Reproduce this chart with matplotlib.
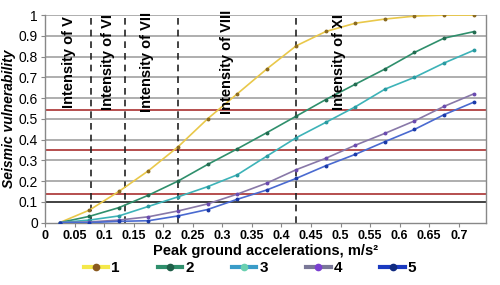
import matplotlib
matplotlib.use("Agg")
import matplotlib.pyplot as plt

plt.rcParams['font.family'] = ['Liberation Sans', 'DejaVu Sans']

pga = [0.025, 0.075, 0.125, 0.175, 0.225, 0.275, 0.325, 0.375, 0.425,
       0.475, 0.525, 0.575, 0.625, 0.675, 0.725]
s1 = [0.0, 0.06, 0.15, 0.25, 0.365, 0.50, 0.62, 0.74, 0.852, 0.921, 0.961, 0.981, 0.995, 1.0, 1.0]
s2 = [0.0, 0.03, 0.072, 0.132, 0.20, 0.28, 0.355, 0.433, 0.513, 0.593, 0.667, 0.74, 0.82, 0.889, 0.92]
s3 = [0.0, 0.012, 0.032, 0.078, 0.124, 0.173, 0.23, 0.32, 0.409, 0.483, 0.558, 0.643, 0.70, 0.769, 0.83]
s4 = [0.0, 0.003, 0.012, 0.028, 0.056, 0.09, 0.137, 0.19, 0.255, 0.31, 0.373, 0.43, 0.49, 0.56, 0.62]
s5 = [0.0, 0.0, 0.006, 0.009, 0.032, 0.063, 0.112, 0.157, 0.213, 0.274, 0.329, 0.39, 0.449, 0.52, 0.58]
series_labels = ['1', '2', '3', '4', '5']
line_colors = ['#e9c84a', '#2f8f6c', '#3db3b8', '#8878a8', '#4a6ad0']
marker_colors = ['#8a6a20', '#236b50', '#2a9aa0', '#6a4ab0', '#1a3aa8']
legend_line_colors = ['#f4e84a', '#2f8f6c', '#3a9cc8', '#7a7898', '#1a3ac0']
legend_marker_colors = ['#8a5a20', '#1f5f48', '#6ad0b0', '#7a40d0', '#102a80']

boundaries = [0.078, 0.135, 0.225, 0.425]
intensity_labels = ['Intensity of V', 'Intensity of VI', 'Intensity of VII',
                    'Intensity of VIII', 'Intensity of XI']
intensity_x = [0.040, 0.106, 0.173, 0.308, 0.498]
red_levels = [0.14, 0.35, 0.545]

xticks = [0, 0.05, 0.1, 0.15, 0.2, 0.25, 0.3, 0.35, 0.4, 0.45, 0.5, 0.55, 0.6, 0.65, 0.7]
xtick_labels = ['0', '0.05', '0.1', '0.15', '0.2', '0.25', '0.3', '0.35', '0.4',
                '0.45', '0.5', '0.55', '0.6', '0.65', '0.7']
yticks = [0, 0.1, 0.2, 0.3, 0.4, 0.5, 0.6, 0.7, 0.8, 0.9, 1.0]
ytick_labels = ['0', '0.1', '0.2', '0.3', '0.4', '0.5', '0.6', '0.7', '0.8', '0.9', '1']

fig = plt.figure(figsize=(5, 2.85), dpi=100)
ax = fig.add_axes([0.09, 0.219, 0.882, 0.728])
ax.set_xlim(0, 0.746)
ax.set_ylim(0, 1)

for y in yticks[1:]:
    ax.axhline(y, color='#333333' if abs(y - 0.1) < 1e-9 else '#a8a8a8', lw=1.3, zorder=1)
for y in red_levels:
    ax.axhline(y, color='#b04040', lw=1.3, zorder=1)
for x in boundaries:
    ax.axvline(x, color='#222222', lw=1.2, ls=(0, (4, 3)), zorder=2)

for vals, lab, lc, mc in zip([s1, s2, s3, s4, s5], series_labels, line_colors, marker_colors):
    ax.plot(pga, vals, color=lc, lw=1.2, marker='o', ms=1.8, mfc=mc, mec=mc,
            label=lab, zorder=3)

for x, t in zip(intensity_x, intensity_labels):
    ax.text(x, 0.775, t, rotation=90, ha='center', va='center', fontsize=10.5,
            fontweight='bold', color='black', zorder=4)

ax.set_xticks(xticks)
ax.set_xticklabels(xtick_labels, fontsize=9, fontweight='bold')
ax.set_yticks(yticks)
ax.set_yticklabels(ytick_labels, fontsize=10)
ax.tick_params(axis='both', length=3, color='#888888', pad=2)
for s in ['left', 'right', 'bottom']:
    ax.spines[s].set_color('#888888')
    ax.spines[s].set_linewidth(1.0)
ax.spines['top'].set_visible(False)

ax.set_xlabel('Peak ground accelerations, m/s\u00b2', fontsize=10.5,
              fontweight='bold', labelpad=2)
ax.set_ylabel('Seismic vulnerability', fontsize=10, fontstyle='italic',
              fontweight='bold', labelpad=2)

leg = fig.legend(loc='center', bbox_to_anchor=(0.5, 0.06), ncol=5, frameon=False,
                 prop={'weight': 'bold', 'size': 11}, handlelength=1.6,
                 columnspacing=2.5, handletextpad=0.2, markerscale=2.5)
for h, c, mc in zip(leg.legend_handles, legend_line_colors, legend_marker_colors):
    h.set_linewidth(3)
    h.set_color(c)
    h.set_markerfacecolor(mc)
    h.set_markeredgecolor(mc)

fig.savefig('out.png', dpi=100)
